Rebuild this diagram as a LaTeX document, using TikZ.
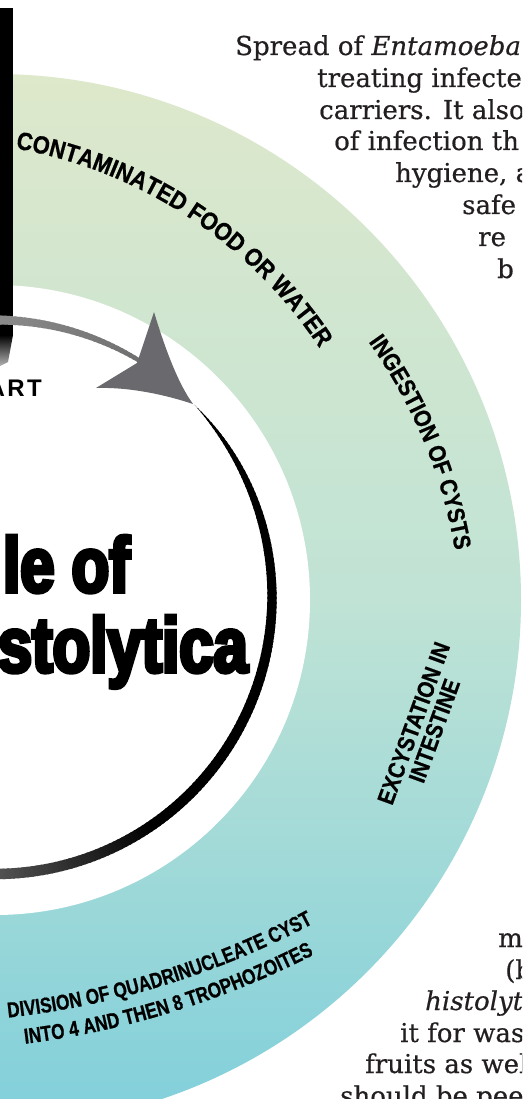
\documentclass[tikz,border=0pt]{standalone}
\usepackage{fontspec}
\usetikzlibrary{decorations.text}
\setmainfont{DejaVu Serif}
\newfontfamily\bodyfont{DejaVu Serif}[FakeBold=0.5]
\newfontfamily\labelfont{Liberation Sans Bold}[FakeStretch=0.88,FakeBold=0.8]
\newfontfamily\narrowlabelfont{Liberation Sans Bold}[FakeStretch=0.8,FakeBold=0.8]
\newfontfamily\titlefont{Liberation Sans Bold}[FakeStretch=0.79,FakeBold=5]
\newfontfamily\kickerfont{Liberation Sans Bold}[LetterSpace=10]

\definecolor{ringtop}{HTML}{DEE8CB}
\definecolor{ringbot}{HTML}{80CFDB}
\definecolor{ringmid}{HTML}{C0E3D5}
\definecolor{ink}{HTML}{231F20}
\definecolor{arrowgray}{HTML}{69696E}
\definecolor{arrowlight}{HTML}{8A8A8A}

\tikzset{
  bodyline/.style={anchor=base west, inner sep=0pt, text=ink, font=\bodyfont\fontsize{26}{32}\selectfont},
  titleline/.style={anchor=base east, inner sep=0pt, font=\titlefont\fontsize{78}{78}\selectfont},
}

\begin{document}
\begin{tikzpicture}[x=1pt,y=-1pt]
\useasboundingbox (0,0) rectangle (522,1099);
\clip (0,0) rectangle (522,1099);
\fill[white] (0,0) rectangle (522,1099);

% coloured ring of the cycle
\coordinate (ringcentre) at (-5,600);
\shade[top color=ringtop, bottom color=ringbot, middle color=ringmid] (ringcentre) circle[radius=526];
\fill[white] (ringcentre) circle[radius=315];

% black rule on the left edge
\fill[black] (0,8) -- (13,8) -- (13,335) -- (0,335) -- cycle;
\shade[top color=black, bottom color=black!30] (0,335) -- (13,335) -- (8,362) -- (0,366) -- cycle;

% tapering circular arrow
\begin{scope}[shift={(-5,597)}]
  \foreach \a in {-44,...,301}{
    \pgfmathsetmacro{\w}{\a<90 ? 10.5*(1-exp(-(\a+44)/20)) : (\a<271 ? 10.5-1.5*(\a-90)/181 : 9-5*(\a-271)/31)}
    \pgfmathsetmacro{\p}{\a<55 ? 100 : (\a<90 ? 100-62*(\a-55)/35 : (\a<271 ? 38-38*(\a-90)/181 : 20*(\a-271)/31))}
    \pgfmathsetmacro{\ri}{277-\w/2}
    \pgfmathsetmacro{\ro}{277+\w/2}
    \pgfmathsetmacro{\b}{\a+1.4}
    \fill[black!\p!arrowlight] (\a:\ri) -- (\b:\ri) -- (\b:\ro) -- (\a:\ro) -- cycle;
  }
\end{scope}
\fill[arrowgray] (96,388) -- (137,363) -- (154,312)
  .. controls (164,345) and (177,382) .. (193,404)
  .. controls (160,393) and (125,387) .. (96,388) -- cycle;

% stage labels on the ring
\path[decorate, decoration={text along path, text align=left,
  text={|\labelfont\fontsize{25}{25}\selectfont|CONTAMINATED FOOD OR WATER}}]
  (-64.4,601.5) ++(-80:460) arc[start angle=-80, end angle=-20, radius=460];
\path[decorate, decoration={text along path, text align=left,
  text={|\labelfont\fontsize{24}{24}\selectfont|INGESTION OF CYSTS}}]
  (-41,634) ++(-35.5:503) arc[start angle=-35.5, end angle=0, radius=503];
\node[rotate=70, align=center, inner sep=0pt, font=\labelfont\fontsize{23.5}{22}\selectfont]
  (excyst) at (424,727) {EXCYSTATION IN\\INTESTINE};
\path[decorate, decoration={text along path, text align=center,
  text={|\narrowlabelfont\fontsize{21.5}{21.5}\selectfont|DIVISION OF QUADRINUCLEATE CYST}}]
  (-85.5,172.8) ++(83.89:850) arc[start angle=83.89, end angle=61.81, radius=850];
\path[decorate, decoration={text along path, text align=center,
  text={|\narrowlabelfont\fontsize{21.5}{21.5}\selectfont|INTO 4 AND THEN 8 TROPHOZOITES}}]
  (-85.5,172.8) ++(83.89:878) arc[start angle=83.89, end angle=61.81, radius=878];

% title inside the ring
\node[anchor=base east, inner sep=0pt, font=\kickerfont\fontsize{24}{24}\selectfont] (kicker) at (42,396) {ART};
\node[titleline] (title1) at (130,592) {le of};
\node[titleline] (title2) at (248,672) {stolytica};

% body text beside the ring
\node[bodyline] (t1) at (235,55) {Spread of \textit{Entamoeba}};
\node[bodyline] (t2) at (317,87) {treating infecte};
\node[bodyline] (t3) at (319,119) {carriers. It also};
\node[bodyline] (t4) at (334,150) {of infection th};
\node[bodyline] (t5) at (395,182) {hygiene, a};
\node[bodyline] (t6) at (462,214) {safe};
\node[bodyline] (t7) at (478,246) {re};
\node[bodyline] (t8) at (497,278) {b};
\node[bodyline] (b1) at (498,947) {m};
\node[bodyline] (b2) at (505,979) {(b};
\node[bodyline] (b3) at (425,1010) {\textit{histolyt}};
\node[bodyline] (b4) at (400,1042) {it for was};
\node[bodyline] (b5) at (365,1073) {fruits as wel};
\node[bodyline] (b6) at (340,1105) {should be peel};
\end{tikzpicture}
\end{document}
